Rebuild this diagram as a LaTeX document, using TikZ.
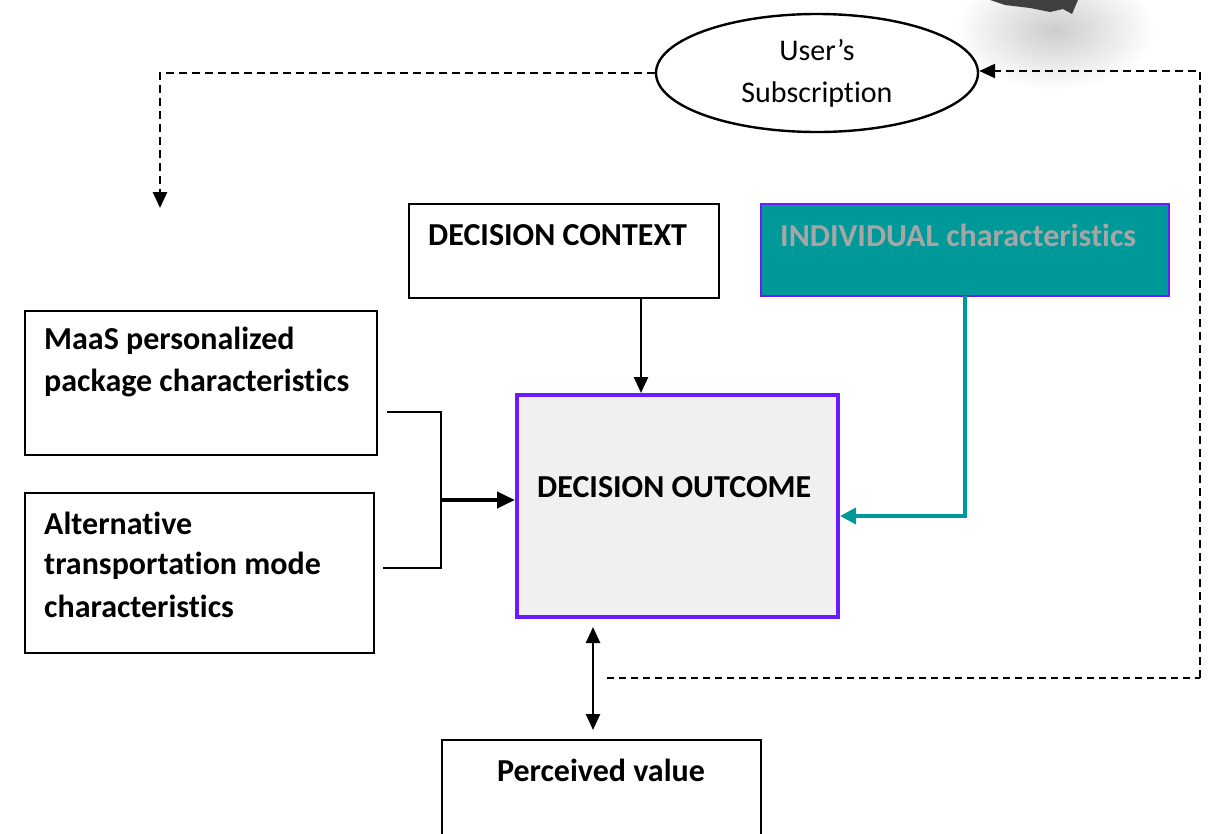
\documentclass[tikz,border=0pt]{standalone}
\usepackage{fontspec}
\setmainfont{Carlito}[Ligatures={NoCommon}]
\usetikzlibrary{arrows.meta,shapes.geometric}
\definecolor{teal1}{HTML}{009999}
\definecolor{purp}{HTML}{6A1BFF}
\definecolor{ltgray}{HTML}{F0F0F0}
\definecolor{txtgray}{HTML}{A6A6A6}
\tikzset{
  box/.style={draw=black, line width=2pt, inner sep=0pt},
  lbl/.style={anchor=west, font=\fontsize{32}{36}\selectfont\bfseries, inner sep=0pt},
  dash1/.style={line width=2.6pt, dash pattern=on 8pt off 5pt},
  conn/.style={line width=2.6pt},
  tip/.style={-{Triangle[length=16pt,width=14pt]}},
}
\begin{document}
\begin{tikzpicture}[x=1pt,y=-1pt]
\useasboundingbox (0,0) rectangle (1212,833);
% top-right graphic fragment
\shade[inner color=gray!40, outer color=white] (1055,30) ellipse (100 and 60);
\fill[black!75] (990,0) -- (1078,0) -- (1072,14) -- (1063,9) -- (1050,12) -- (1030,8) -- (1005,5) -- cycle;
% nodes
\node[draw, line width=2.4pt, ellipse, minimum width=322, minimum height=118, fill=white, align=center,
  font=\fontsize{30}{42}\selectfont] (sub) at (817,73) {User’s\\Subscription};
\node[box, minimum width=310, minimum height=94] (ctx) at (564,251) {};
\node[lbl] (ctxt) at (428,235) {DECISION CONTEXT};
\node[draw=purp, line width=2.4pt, fill=teal1, minimum width=408, minimum height=92, inner sep=0pt] (ind) at (965,250) {};
\node[lbl, text=txtgray] (indt) at (780,235) {INDIVIDUAL characteristics};
\node[box, minimum width=352, minimum height=144] (maas) at (201,383) {};
\node[lbl] (maast1) at (44,341) {MaaS personalized};
\node[lbl] (maast2) at (44,383) {package characteristics};
\node[box, minimum width=349, minimum height=160] (alt) at (199.5,573) {};
\node[lbl] (altt1) at (44,523) {Alternative};
\node[lbl] (altt2) at (44,566) {transportation mode};
\node[lbl] (altt3) at (44,606) {characteristics};
\node[draw=purp, line width=4pt, fill=ltgray, minimum width=321, minimum height=222, inner sep=0pt] (out) at (677.5,506) {};
\node[lbl] (outt) at (537,487) {DECISION OUTCOME};
\draw[box] (442,845) -- (442,740) -- (761,740) -- (761,845);
\node[minimum width=319, minimum height=93, inner sep=0pt] (pv) at (601.5,786.5) {};
\node[lbl, anchor=center] (pvt) at (601,770) {Perceived value};
% connectors
\coordinate (d1) at (160,73);
\coordinate (d2) at (160,208);
\draw[dash1, tip] (sub.west) -- (d1) -- (d2);
\coordinate (e1) at (607,678);
\coordinate (e2) at (1200,678);
\coordinate (e3) at (1200,71);
\draw[line width=2.2pt, dash pattern=on 7pt off 5pt] (e1) -- (e2);
\draw[dash1, tip] (e2) -- (e3) -- (e3 -| sub.east);
\coordinate (c1) at (641,298);
\draw[conn, tip] (c1) -- (c1 |- out.north);
\coordinate (b1) at (387,412);
\coordinate (b2) at (441,412);
\coordinate (b3) at (441,568);
\coordinate (b4) at (383,568);
\coordinate (bm) at (441,500);
\draw[conn] (b1) -- (b2) -- (b3) -- (b4);
\draw[line width=4pt, -{Triangle[length=18pt,width=16pt]}] (bm) -- (bm -| out.west);
\coordinate (t1) at (965,296);
\coordinate (t2) at (965,516);
\draw[teal1, line width=3.6pt, -{Triangle[length=16pt,width=16pt]}] (t1) -- (t2) -- (t2 -| out.east);
\coordinate (p1) at (593,627);
\coordinate (p2) at (593,730);
\draw[conn, {Triangle[length=16pt,width=14pt]}-{Triangle[length=16pt,width=14pt]}] (p1) -- (p2);
\end{tikzpicture}
\end{document}
